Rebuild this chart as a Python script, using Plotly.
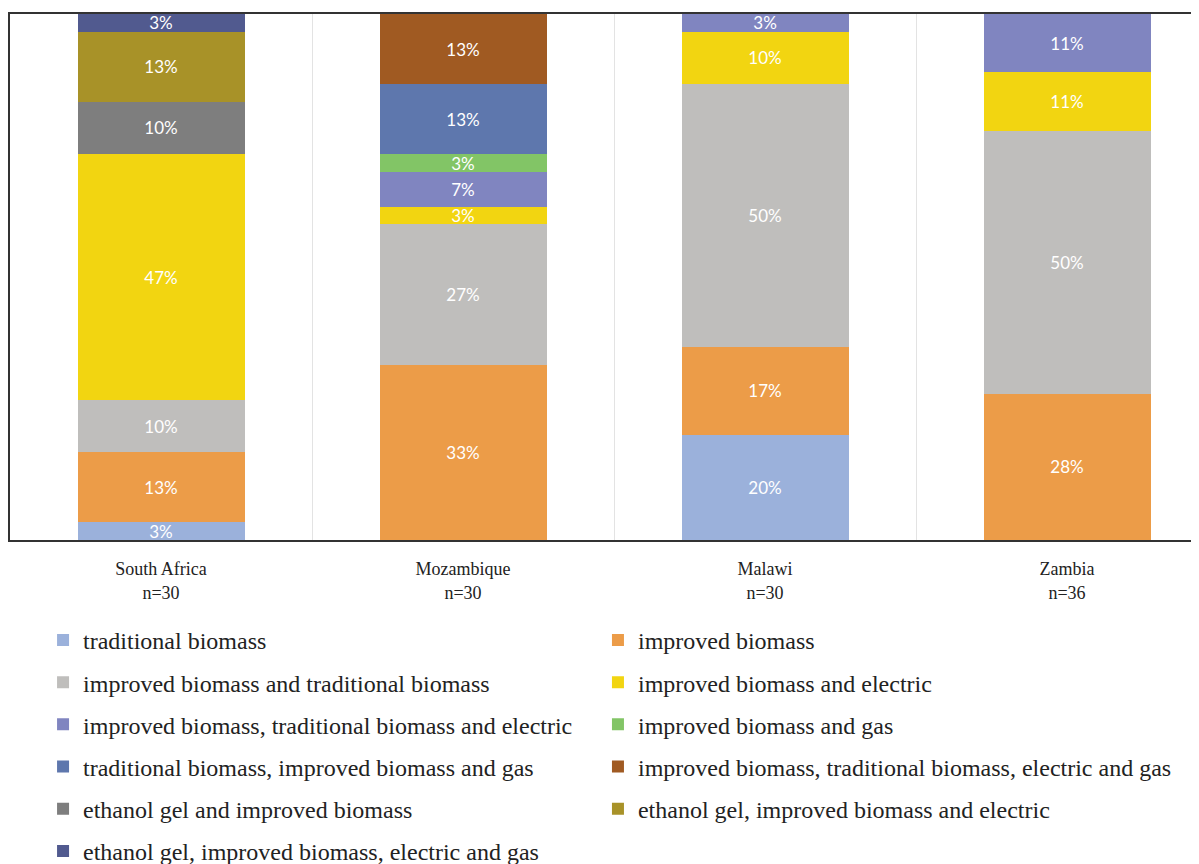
import plotly.graph_objects as go

countries = ["South Africa", "Mozambique", "Malawi", "Zambia"]
sample_n = [30, 30, 30, 36]

series_names = [
    "traditional biomass",
    "improved biomass",
    "improved biomass and traditional biomass",
    "improved biomass and electric",
    "improved biomass, traditional biomass and electric",
    "improved biomass and gas",
    "traditional biomass, improved biomass and gas",
    "improved biomass, traditional biomass, electric and gas",
    "ethanol gel and improved biomass",
    "ethanol gel, improved biomass and electric",
    "ethanol gel, improved biomass, electric and gas",
]

# household counts per country (South Africa, Mozambique, Malawi, Zambia)
traditional_biomass = [1, 0, 6, 0]
improved_biomass = [4, 10, 5, 10]
improved_traditional = [3, 8, 15, 18]
improved_electric = [14, 1, 3, 4]
improved_traditional_electric = [0, 2, 1, 4]
improved_gas = [0, 1, 0, 0]
traditional_improved_gas = [0, 4, 0, 0]
improved_traditional_electric_gas = [0, 4, 0, 0]
ethanol_improved = [3, 0, 0, 0]
ethanol_improved_electric = [4, 0, 0, 0]
ethanol_improved_electric_gas = [1, 0, 0, 0]

series_counts = [
    traditional_biomass, improved_biomass, improved_traditional, improved_electric,
    improved_traditional_electric, improved_gas, traditional_improved_gas,
    improved_traditional_electric_gas, ethanol_improved, ethanol_improved_electric,
    ethanol_improved_electric_gas,
]

colors = ["#9BB1DB", "#EC9C48", "#BFBEBC", "#F2D511", "#8085C0", "#82C566",
          "#5E77AD", "#A05A22", "#7E7E7E", "#A89228", "#515A8F"]

cat_labels = [f"{c}<br>n={n}" for c, n in zip(countries, sample_n)]

fig = go.Figure()
for i, (name, counts) in enumerate(zip(series_names, series_counts)):
    pct = [c / n * 100 for c, n in zip(counts, sample_n)]
    txt = [f"{round(p)}%" if p > 0 else "" for p in pct]
    fig.add_trace(go.Bar(
        x=cat_labels, y=pct, name=name, text=txt,
        marker=dict(color=colors[i], line=dict(width=0)),
        textposition="inside", insidetextanchor="middle", textangle=0,
        textfont=dict(color="white", size=17, family="Lato"),
        legend="legend" if i % 2 == 0 else "legend2",
        legendgroup=f"g{i}",
        hoverinfo="name+y",
    ))

legend_common = dict(
    orientation="v", traceorder="grouped", tracegroupgap=8,
    font=dict(family="Liberation Serif", size=24, color="#222"),
    yanchor="top", y=-0.148, xanchor="left", bgcolor="rgba(0,0,0,0)",
)

fig.update_layout(
    width=1191, height=856,
    margin=dict(l=2, r=0, t=6, b=324, autoexpand=False),
    paper_bgcolor="white", plot_bgcolor="white",
    barmode="stack", bargap=0.447,
    uniformtext=dict(minsize=17, mode="show"),
    showlegend=True,
    legend=dict(x=0.0278, **legend_common),
    legend2=dict(x=0.4945, **legend_common),
    xaxis=dict(
        range=[-0.5, 3.437], showline=True, linecolor="#333", linewidth=1.5,
        mirror=True, tickson="boundaries", showgrid=True, gridcolor="#E3E3E3",
        ticks="", ticklabelstandoff=12,
        tickfont=dict(family="Liberation Serif", size=18, color="#222"),
    ),
    yaxis=dict(
        range=[0, 100], showline=True, linecolor="#333", linewidth=1.5,
        mirror=True, showgrid=False, showticklabels=False, ticks="", zeroline=False,
    ),
)

fig.write_html("out.html")
